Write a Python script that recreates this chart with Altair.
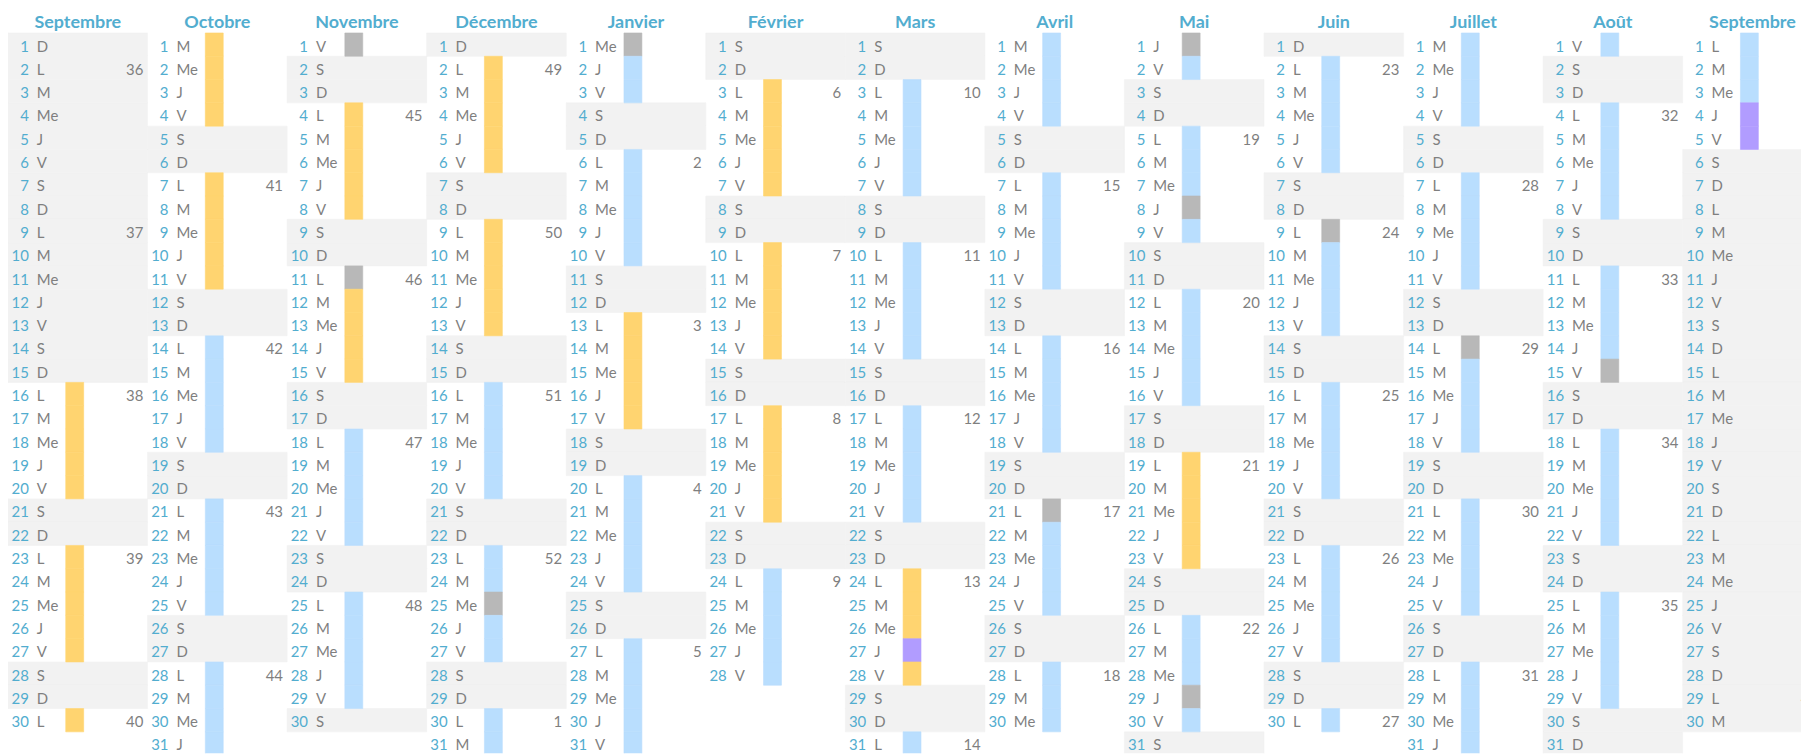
import datetime as dt
import altair as alt
import pandas as pd

# ---------------- data ----------------
month_names = ["Septembre", "Octobre", "Novembre", "Décembre", "Janvier", "Février",
               "Mars", "Avril", "Mai", "Juin", "Juillet", "Août", "Septembre"]
month_years = [2024, 2024, 2024, 2024, 2025, 2025, 2025, 2025, 2025, 2025, 2025, 2025, 2025]
month_numbers = [9, 10, 11, 12, 1, 2, 3, 4, 5, 6, 7, 8, 9]
weekday_labels = ["L", "M", "Me", "J", "V", "S", "D"]

range_start = "2024-09-16"
range_end = "2025-09-05"

orange_periods = [("2024-09-16", "2024-10-11"), ("2024-11-04", "2024-11-15"),
                  ("2024-12-02", "2024-12-13"), ("2025-01-13", "2025-01-17"),
                  ("2025-02-03", "2025-02-21"), ("2025-03-24", "2025-03-28"),
                  ("2025-05-19", "2025-05-23")]
blue_periods = [("2024-10-14", "2024-10-31"), ("2024-11-18", "2024-11-29"),
                ("2024-12-16", "2025-01-10"), ("2025-01-20", "2025-01-31"),
                ("2025-02-24", "2025-03-21"), ("2025-03-31", "2025-05-16"),
                ("2025-05-26", "2025-09-03")]
purple_days = ["2025-03-27", "2025-09-04", "2025-09-05"]
holidays = ["2024-11-01", "2024-11-11", "2024-12-25", "2025-01-01", "2025-04-21",
            "2025-05-01", "2025-05-08", "2025-05-29", "2025-06-09", "2025-07-14",
            "2025-08-15"]

category_names = ["orange", "bleu", "violet", "férié"]
category_colors = ["#FFD470", "#B9DEFE", "#B19CFF", "#B8B8B8"]


def d(s):
    return dt.date.fromisoformat(s)


def in_periods(day, periods):
    return any(d(a) <= day <= d(b) for a, b in periods)


rows = []
for col, (y, m) in enumerate(zip(month_years, month_numbers)):
    day = dt.date(y, m, 1)
    while day.month == m:
        wd = day.weekday()
        inside = d(range_start) <= day <= d(range_end)
        cat = None
        if inside and wd < 5:
            if day.isoformat() in holidays:
                cat = "férié"
            elif day.isoformat() in purple_days:
                cat = "violet"
            elif in_periods(day, orange_periods):
                cat = "orange"
            elif in_periods(day, blue_periods):
                cat = "bleu"
        rows.append({
            "col": col,
            "col_end": col + 1,
            "day": day.day,
            "top": day.day - 1,
            "mid": day.day - 0.5,
            "wd": weekday_labels[wd],
            "week": str(day.isocalendar()[1]) if wd == 0 else "",
            "shaded": bool((wd >= 5) or (not inside)),
            "cat": cat,
        })
        day = day + dt.timedelta(days=1)
df = pd.DataFrame(rows)

headers = pd.DataFrame({
    "name": month_names,
    "mid_x": [i + 0.5 for i in range(len(month_names))],
    "mid": [-0.5] * len(month_names),
})

# ---------------- chart ----------------
ROW = 23.4
COLW = 140.18
W = 1801
H = 747

xs = alt.Scale(domain=[0, W / COLW], nice=False, zero=False)
ys = alt.Scale(domain=[-1, -1 + H / ROW], nice=False, zero=False, reverse=True)

base = alt.Chart(df)

bands = base.transform_filter("datum.shaded").mark_rect(
    color="#F2F2F2", stroke="#F2F2F2", strokeWidth=0.6, clip=True
).encode(
    x=alt.X("col:Q", scale=xs, axis=None),
    x2="col_end:Q",
    y=alt.Y("top:Q", scale=ys, axis=None),
    y2="day:Q",
)

cat_scale = alt.Scale(domain=category_names, range=category_colors)
stripes = base.transform_filter("datum.cat != null").mark_rect(
    xOffset=58, x2Offset=76, strokeWidth=0.6, clip=True
).encode(
    x=alt.X("col:Q", scale=xs, axis=None),
    x2="col:Q",
    y=alt.Y("top:Q", scale=ys, axis=None),
    y2="day:Q",
    color=alt.Color("cat:N", scale=cat_scale, legend=None),
    stroke=alt.Stroke("cat:N", scale=cat_scale, legend=None),
)

FONT = "Lato"
day_text = base.mark_text(align="right", baseline="alphabetic", dx=21, dy=7,
                          font=FONT, fontSize=15, color="#52ADCF", clip=True).encode(
    x=alt.X("col:Q", scale=xs, axis=None),
    y=alt.Y("mid:Q", scale=ys, axis=None),
    text="day:Q",
)

wd_text = base.mark_text(align="left", baseline="alphabetic", dx=29, dy=7,
                         font=FONT, fontSize=15, color="#7F7F7F", clip=True).encode(
    x=alt.X("col:Q", scale=xs, axis=None),
    y=alt.Y("mid:Q", scale=ys, axis=None),
    text="wd:N",
)

week_text = base.transform_filter("datum.week != ''").mark_text(
    align="right", baseline="alphabetic", dx=136, dy=7,
    font=FONT, fontSize=15, color="#7F7F7F", clip=True).encode(
    x=alt.X("col:Q", scale=xs, axis=None),
    y=alt.Y("mid:Q", scale=ys, axis=None),
    text="week:N",
)

header_text = alt.Chart(headers).mark_text(
    align="center", baseline="alphabetic", dy=7,
    font=FONT, fontSize=18, fontWeight="bold", color="#52ADCF", clip=True).encode(
    x=alt.X("mid_x:Q", scale=xs, axis=None),
    y=alt.Y("mid:Q", scale=ys, axis=None),
    text="name:N",
)

chart = alt.layer(bands, stripes, day_text, wd_text, week_text, header_text).properties(
    width=W, height=H,
    padding=0,
    autosize=alt.AutoSizeParams(type="none"),
).configure_view(stroke=None)

chart.save("out.html", embed_options={"renderer": "svg", "actions": False})
